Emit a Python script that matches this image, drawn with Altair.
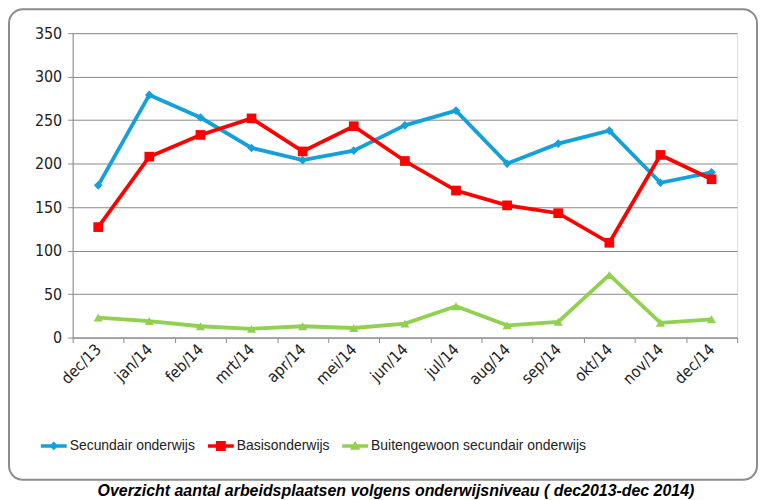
import altair as alt
import pandas as pd

months = ["dec/13", "jan/14", "feb/14", "mrt/14", "apr/14", "mei/14", "jun/14",
          "jul/14", "aug/14", "sep/14", "okt/14", "nov/14", "dec/14"]
series_names = ["Secundair onderwijs", "Basisonderwijs", "Buitengewoon secundair onderwijs"]
secundair = [175, 279, 253, 218, 204, 215, 244, 261, 200, 223, 238, 178, 190]
basis = [127, 208, 233, 252, 214, 243, 203, 169, 152, 143, 109, 210, 182]
buitengewoon = [23, 19, 13, 10, 13, 11, 16, 36, 14, 18, 72, 17, 21]
y_ticks = [0, 50, 100, 150, 200, 250, 300, 350]
colors = ["#14a0d8", "#ff0000", "#92d050"]
marker_shapes = ["diamond", "square", "triangle-up"]
legend_paths = [
    "M-1,-0.13H1V0.13H-1Z M0,-0.34L0.34,0L0,0.34L-0.34,0Z",
    "M-1,-0.13H1V0.13H-1Z M-0.38,-0.38H0.38V0.38H-0.38Z",
    "M-1,-0.13H1V0.13H-1Z M0,-0.4L0.4,0.3H-0.4Z",
]

rows = []
for name, vals in zip(series_names, [secundair, basis, buitengewoon]):
    for m, v in zip(months, vals):
        rows.append({"maand": m, "serie": name, "aantal": v})
df = pd.DataFrame(rows)

FONT = "'Liberation Sans Narrow', 'DejaVu Sans Condensed', 'Liberation Sans', sans-serif"
LEG_FONT = "'Liberation Sans Narrow', 'Liberation Sans', sans-serif"

x_enc = alt.X("maand:N", sort=months,
              scale=alt.Scale(paddingInner=0, paddingOuter=0),
              axis=alt.Axis(title=None, labelAngle=315, labelAlign="right",
                            labelBaseline="middle", labelFont=FONT, labelFontSize=16,
                            labelColor="#222", labelPadding=4, tickBand="extent",
                            tickColor="#8a8a8a", tickSize=5, domainColor="#8a8a8a",
                            grid=False))
y_enc = alt.Y("aantal:Q",
              scale=alt.Scale(domain=[0, 350], nice=False),
              axis=alt.Axis(title=None, values=y_ticks, labelFont=FONT, labelFontSize=16,
                            labelColor="#222", labelPadding=6, tickColor="#8a8a8a",
                            tickSize=5, domainColor="#8a8a8a", gridColor="#8a8a8a",
                            gridWidth=1, gridOpacity=1))

# colour scale for the marks (domain in alphabetical order so its legend,
# which is switched off, is not merged with the fill/shape legend below)
pairs = sorted(zip(series_names, colors))
color_scale = alt.Scale(domain=[p[0] for p in pairs], range=[p[1] for p in pairs])
fill_scale = alt.Scale(domain=series_names, range=colors)

base = alt.Chart(df)

frame = alt.Chart(pd.DataFrame({"k": [0]})).mark_rect(
    fill="transparent", stroke="#8c8c8c", strokeWidth=2, cornerRadius=14, clip=False
).encode(x=alt.value(-64), x2=alt.value(688), y=alt.value(-24), y2=alt.value(449))

lines = base.mark_line(strokeWidth=3.8).encode(
    x=x_enc, y=y_enc,
    color=alt.Color("serie:N", scale=color_scale, legend=None),
    detail="serie:N",
)

point_layers = []
for name, shp, sz in zip(series_names, marker_shapes, [75, 95, 85]):
    point_layers.append(
        base.transform_filter(alt.datum.serie == name).mark_point(
            filled=True, shape=shp, size=sz, opacity=1
        ).encode(x=x_enc, y=y_enc,
                 color=alt.Color("serie:N", scale=color_scale, legend=None))
    )

leg = alt.Legend(orient="none", legendX=-32, legendY=402, direction="horizontal",
                 title=None, labelFont=LEG_FONT, labelFontSize=14, labelColor="#222",
                 labelLimit=400, symbolSize=676, symbolStrokeWidth=0, symbolOpacity=1,
                 labelOffset=3, columnPadding=12, padding=0)
legend_layer = base.transform_filter("false").mark_point(
    filled=True, size=676, opacity=1
).encode(
    x=x_enc, y=y_enc,
    fill=alt.Fill("serie:N", scale=fill_scale, legend=leg),
    shape=alt.Shape("serie:N", scale=alt.Scale(domain=series_names, range=legend_paths),
                    legend=leg),
)

chart = alt.layer(frame, lines, *point_layers, legend_layer).properties(
    width=668, height=306,
    padding={"left": 65, "top": 24, "right": 21, "bottom": 162},
    title=alt.TitleParams(
        "Overzicht aantal arbeidsplaatsen volgens onderwijsniveau ( dec2013-dec 2014)",
        orient="bottom", anchor="middle", frame="group", font="Liberation Sans",
        fontStyle="italic", fontWeight="bold", fontSize=16, color="black",
        offset=2, baseline="top", dx=-9),
).configure_view(fill="#d9d9d9", stroke=None).configure(
    background="white", autosize=alt.AutoSizeParams(type="none"))

chart.save("out.html", embed_options={"renderer": "svg", "actions": False})
